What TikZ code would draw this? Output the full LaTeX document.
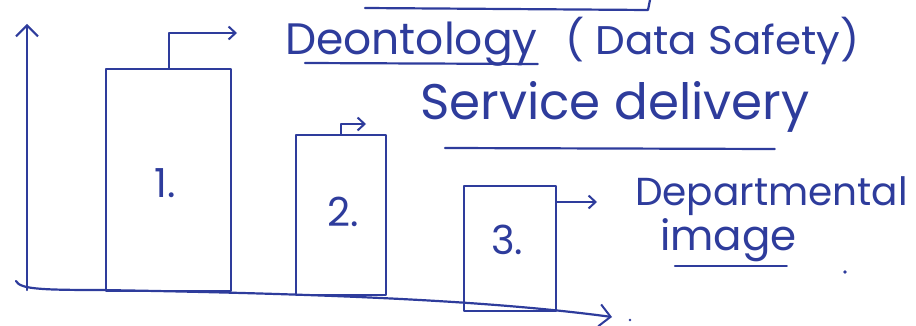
\documentclass[tikz,border=0pt]{standalone}
\usepackage{fontspec}
\setmainfont{Poppins}
\usetikzlibrary{arrows.meta}
\definecolor{inkc}{HTML}{2E3C9C}
\begin{document}
\begin{tikzpicture}[x=1pt,y=-1pt,
  ink/.style={draw=inkc, line width=2.2pt, line cap=round, line join=round},
  bar/.style={ink, rectangle, inner sep=0pt, anchor=north west},
  num/.style={text=inkc, font=\fontsize{40}{40}\selectfont, inner sep=0pt},
  lbl/.style={text=inkc, inner sep=0pt, anchor=base west},
  bigtip/.style={-{Straight Barb[length=11pt,width=22pt,line width=2pt]}},
  smalltip/.style={-{Straight Barb[length=7pt,width=13pt,line width=2pt]}}
]
\useasboundingbox (0,0) rectangle (916,326);

% edge of the box above the chart
\draw[ink] (365,8) -- (648,10) -- (650,0);

% axes
\coordinate (origin) at (27,290);
\coordinate (ytop) at (27,24);
\coordinate (xstart) at (16,281);
\coordinate (xbend) at (100,290);
\coordinate (xend) at (612,317);
\draw[ink,bigtip] (origin) -- (ytop);
\draw[ink,bigtip] (xstart) .. controls (20,289) and (40,290) .. (xbend)
  .. controls (350,294) and (500,302) .. (xend);

% bars
\node[bar, minimum width=125pt, minimum height=222pt] (bar1) at (105,68) {};
\node[bar, minimum width=90pt, minimum height=160pt] (bar2) at (295,134) {};
\node[bar, minimum width=92pt, minimum height=125pt] (bar3) at (463,185) {};
\node[num] (n1) at (165,183) {1.};
\node[num] (n2) at (343,212) {2.};
\node[num] (n3) at (507,240) {3.};

% labels
\node[lbl, font=\fontsize{44}{44}\selectfont] (deon) at (285,55) {Deontology};
\node[lbl, font=\fontsize{40}{40}\selectfont, xscale=1.05] (safety) at (565,55) {( Data Safety)};
\node[lbl, font=\fontsize{50}{50}\selectfont] (serv) at (420,120) {Service delivery};
\node[lbl, font=\fontsize{39}{39}\selectfont] (dept) at (635,205) {Departmental};
\node[lbl, font=\fontsize{42}{42}\selectfont] (img) at (660,250) {image};

% arrows from the bars to their labels
\coordinate (t1) at (237,33);
\coordinate (t2) at (366,124);
\coordinate (t3) at (597,202);
\draw[ink,smalltip] (bar1.north) |- (t1);
\draw[ink,smalltip] (bar2.north) |- (t2);
\draw[ink,smalltip] (bar3.north east |- t3) -- (t3);

% underlines
\draw[ink] ([shift={(20,8)}]deon.base west) -- ([shift={(0,9)}]deon.base east);
\draw[ink] ([shift={(25,28)}]serv.base west) -- ([shift={(-35,29)}]serv.base east);
\draw[ink] ([shift={(15,16)}]img.base west) -- ([shift={(-10,16)}]img.base east);

% stray dots
\fill[inkc] (845,272) circle (1.8pt);
\fill[inkc] (630,320) circle (1.4pt);
\end{tikzpicture}
\end{document}
